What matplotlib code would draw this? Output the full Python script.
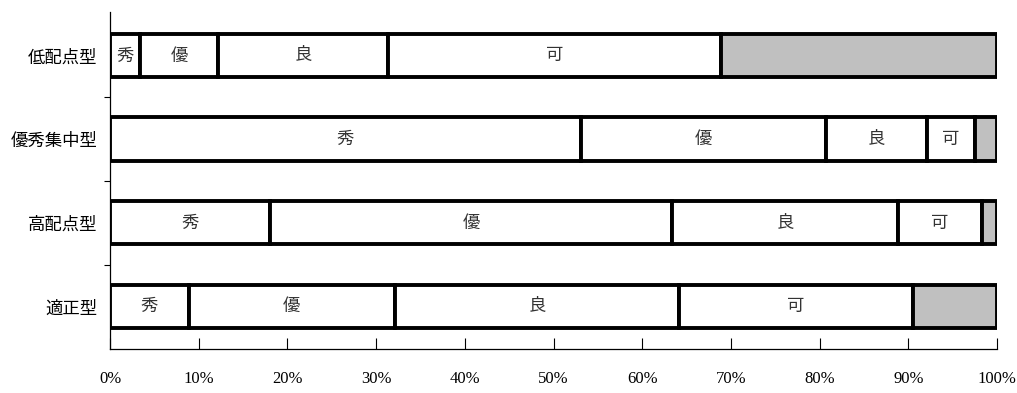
import matplotlib
matplotlib.use("Agg")
import matplotlib.pyplot as plt
import numpy as np

plt.rcParams['font.family'] = ['Noto Sans CJK JP', 'DejaVu Sans']

# grade distribution per scoring type, in percent (top to bottom as drawn)
categories = ['低配点型', '優秀集中型', '高配点型', '適正型']
grades = ['秀', '優', '良', '可', '不可']
shu = [3.4, 53.1, 18.0, 8.9]
yu = [8.8, 27.6, 45.4, 23.2]
ryo = [19.1, 11.4, 25.4, 32.1]
ka = [37.6, 5.4, 9.5, 26.3]
fuka = [31.1, 2.5, 1.7, 9.5]
fill_colors = ['white', 'white', 'white', 'white', '#c0c0c0']
x_ticks = [0, 10, 20, 30, 40, 50, 60, 70, 80, 90, 100]

fig = plt.figure(figsize=(10.17, 3.93), dpi=100)
ax = fig.add_axes([110 / 1017, 44 / 393, 887 / 1017, 337 / 393])

series = [shu, yu, ryo, ka, fuka]
ypos = np.arange(len(categories))[::-1]
left = np.zeros(len(categories))
for name, vals, fc in zip(grades, series, fill_colors):
    vals = np.array(vals)
    ax.barh(ypos, vals, left=left, height=0.52, color=fc,
            edgecolor='black', linewidth=2.8, zorder=3)
    if name != '不可':
        for y, l, v in zip(ypos, left, vals):
            ax.text(l + v / 2, y, name, ha='center', va='center',
                    fontsize=12.5, color='#333333', zorder=4)
    left += vals

ax.set_xlim(0, 100)
ax.set_ylim(-0.51, 3.52)

ax.set_xticks(x_ticks)
ax.set_xticklabels([f'{t}%' for t in x_ticks], family='Liberation Serif', fontsize=12)
ax.tick_params(axis='x', direction='in', length=8, width=0.8, pad=16)

ax.set_yticks(ypos)
ax.set_yticklabels(categories, fontsize=12.5)
ax.tick_params(axis='y', length=0, pad=9)
ax.set_yticks([0.5, 1.5, 2.5], minor=True)
ax.tick_params(axis='y', which='minor', direction='out', length=4, width=0.8)

for side in ['top', 'right']:
    ax.spines[side].set_visible(False)
for side in ['left', 'bottom']:
    ax.spines[side].set_linewidth(0.9)

fig.savefig('out.png', dpi=100)
